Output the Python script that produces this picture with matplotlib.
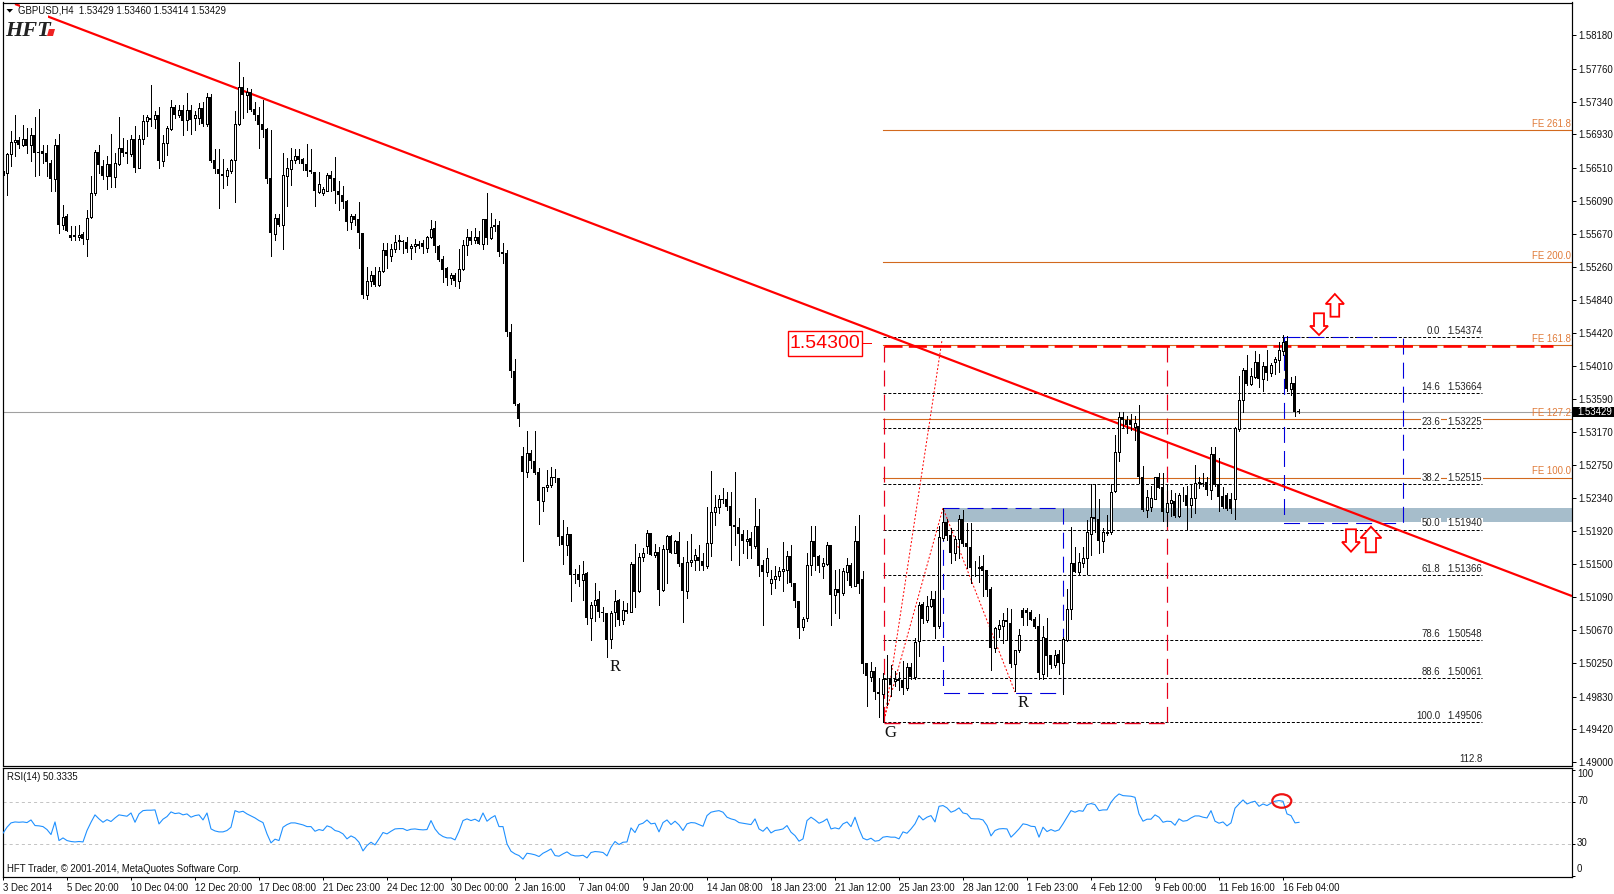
import matplotlib
matplotlib.use("Agg")
import matplotlib.pyplot as plt
import numpy as np
from matplotlib.patches import Polygon, Rectangle, Ellipse
from matplotlib.transforms import Affine2D
from matplotlib.ticker import FormatStrFormatter

# prices are stored in pips (price x 10000)
opens = [
15647,15644,15668,15683,15686,15679,15687,15679,15692,15671,
15672,15669,15657,15637,15679,15579,15590,15566,15566,15563,
15567,15561,15588,15619,15671,15653,15640,15656,15639,15656,
15676,15671,15668,15687,15651,15687,15710,15714,15712,15718,
15659,15682,15700,15727,15718,15724,15711,15724,15713,15713,
15726,15706,15740,15660,15649,15643,15641,15647,15660,15706,
15753,15742,15746,15725,15718,15706,15700,15638,15567,15587,
15578,15641,15649,15660,15665,15662,15655,15648,15646,15620,
15619,15622,15642,15638,15621,15616,15609,15582,15590,15586,
15568,15490,15508,15516,15503,15521,15547,15539,15548,15558,
15558,15557,15549,15552,15555,15556,15550,15563,15575,15552,
15535,15524,15511,15516,15508,15523,15553,15563,15559,15563,
15555,15586,15562,15579,15579,15544,15543,15443,15394,15353,
15287,15267,15291,15281,15267,15230,15248,15250,15261,15259,
15186,15175,15189,15138,15138,15131,15139,15083,15099,15106,
15090,15089,15056,15090,15105,15080,15093,15090,15151,15116,
15160,15173,15190,15162,15166,15118,15169,15186,15165,15180,
15152,15116,15153,15155,15160,15154,15148,15177,15216,15222,
15232,15232,15224,15200,15197,15189,15179,15183,15173,15199,
15149,15140,15126,15132,15136,15142,15143,15161,15127,15104,
15071,15082,15149,15180,15161,15148,15151,15174,15111,15119,
15114,15141,15149,15123,15180,15132,15025,15008,15016,14989,
14986,15005,15007,15003,15005,15004,14994,15021,15008,15053,
15100,15080,15098,15107,15072,15184,15203,15187,15165,15182,
15207,15177,15172,15146,15145,15148,15143,15119,15045,15069,
15072,15080,15076,15024,15042,15093,15093,15090,15081,15072,
15012,15057,15036,15023,15037,15026,15054,15094,15152,15141,
15152,15158,15189,15210,15208,15179,15190,15191,15243,15292,
15336,15332,15332,15324,15325,15261,15219,15222,15233,15260,
15248,15216,15227,15230,15211,15237,15238,15225,15234,15253,
15253,15254,15244,15290,15251,15236,15238,15232,15232,15321,
15358,15396,15378,15387,15405,15384,15401,15392,15406,15408,
15420,15432,15372,15379,15343]
highs = [
15650,15669,15697,15718,15690,15705,15701,15701,15715,15725,
15680,15680,15660,15687,15693,15604,15592,15577,15577,15579,
15570,15597,15641,15673,15679,15661,15665,15693,15669,15715,
15688,15686,15692,15703,15692,15718,15718,15755,15722,15727,
15692,15703,15736,15730,15730,15730,15745,15730,15722,15732,
15734,15745,15744,15674,15674,15662,15650,15662,15722,15784,
15765,15752,15750,15734,15728,15736,15701,15698,15592,15592,
15669,15663,15676,15675,15674,15663,15681,15674,15646,15645,
15627,15644,15647,15664,15634,15628,15610,15592,15592,15608,
15568,15525,15520,15526,15526,15556,15556,15554,15566,15566,
15559,15563,15554,15561,15558,15559,15565,15585,15584,15553,
15539,15525,15518,15518,15548,15560,15573,15571,15575,15571,
15586,15619,15594,15586,15583,15556,15547,15453,15409,15354,
15298,15319,15294,15319,15272,15248,15269,15273,15271,15259,
15206,15197,15189,15144,15149,15154,15140,15102,15127,15117,
15096,15089,15091,15118,15106,15104,15101,15153,15176,15165,
15171,15194,15190,15176,15172,15174,15187,15187,15181,15191,
15160,15180,15189,15169,15175,15165,15223,15268,15238,15238,
15246,15242,15241,15267,15209,15194,15194,15191,15234,15220,
15156,15171,15143,15148,15147,15178,15167,15174,15127,15104,
15084,15164,15199,15198,15162,15158,15178,15175,15143,15144,
15146,15158,15152,15199,15213,15142,15026,15027,15020,15007,
15013,15036,15023,15015,15014,15028,15026,15026,15057,15103,
15103,15110,15116,15116,15198,15221,15208,15196,15186,15212,
15219,15202,15202,15154,15161,15162,15143,15122,15071,15080,
15089,15095,15094,15042,15068,15095,15095,15093,15084,15088,
15072,15082,15036,15042,15042,15059,15119,15197,15172,15164,
15172,15206,15251,15251,15232,15196,15212,15252,15314,15342,
15342,15337,15340,15337,15351,15274,15244,15249,15261,15266,
15266,15251,15244,15240,15240,15248,15249,15250,15276,15261,
15266,15261,15298,15298,15284,15248,15240,15240,15324,15388,
15398,15414,15398,15419,15416,15405,15421,15404,15412,15431,
15440,15439,15387,15388,15346]
lows = [
15638,15617,15653,15665,15676,15678,15669,15659,15641,15642,
15657,15640,15622,15622,15569,15573,15571,15559,15559,15560,
15554,15539,15587,15617,15644,15636,15624,15627,15627,15654,
15665,15657,15665,15646,15650,15681,15691,15703,15701,15650,
15653,15667,15699,15713,15715,15692,15699,15694,15699,15706,
15703,15704,15658,15644,15600,15625,15629,15644,15608,15705,
15713,15721,15722,15711,15676,15690,15632,15540,15559,15577,
15548,15602,15629,15657,15657,15648,15640,15644,15603,15619,
15617,15621,15621,15606,15597,15600,15572,15573,15579,15550,
15486,15485,15502,15501,15502,15519,15524,15533,15545,15548,
15543,15545,15535,15545,15550,15543,15544,15562,15545,15533,
15506,15503,15504,15501,15499,15522,15541,15554,15556,15554,
15548,15554,15561,15571,15539,15531,15438,15387,15351,15325,
15154,15260,15272,15264,15201,15218,15243,15248,15254,15175,
15151,15162,15104,15126,15123,15105,15075,15054,15078,15084,
15078,15033,15044,15072,15074,15075,15089,15090,15096,15115,
15154,15165,15162,15159,15099,15117,15127,15164,15164,15148,
15077,15108,15148,15143,15143,15143,15145,15161,15200,15215,
15228,15219,15155,15175,15149,15165,15158,15158,15171,15135,
15074,15136,15113,15120,15131,15117,15127,15123,15096,15057,
15067,15079,15137,15143,15140,15133,15149,15074,15089,15082,
15111,15131,15122,15123,15114,15013,14971,15003,14980,14957,
14951,14973,14984,14996,14992,14987,14992,15005,15005,15035,
15076,15077,15096,15057,15070,15181,15181,15152,15155,15158,
15173,15145,15126,15135,15128,15110,15110,15017,15040,15059,
15051,15055,15021,14990,15040,15074,15074,15080,15070,15005,
15005,15009,15019,15021,15012,14987,15053,15081,15140,15138,
15147,15138,15162,15191,15164,15166,15187,15189,15242,15281,
15324,15316,15320,15307,15253,15218,15210,15217,15232,15246,
15205,15199,15211,15210,15210,15230,15195,15210,15215,15246,
15249,15238,15232,15249,15218,15221,15219,15215,15208,15318,
15342,15377,15377,15385,15374,15369,15383,15388,15391,15393,
15415,15369,15364,15338,15341]
closes = [
15640,15668,15683,15686,15679,15687,15678,15692,15670,15670,
15668,15658,15637,15679,15579,15589,15571,15562,15563,15566,
15561,15587,15619,15671,15654,15640,15655,15639,15657,15676,
15669,15668,15687,15651,15687,15710,15715,15711,15718,15659,
15682,15701,15727,15718,15724,15710,15724,15711,15718,15726,
15706,15740,15659,15649,15643,15641,15648,15660,15706,15753,
15742,15746,15724,15717,15705,15699,15637,15568,15587,15578,
15642,15650,15660,15665,15661,15655,15647,15645,15621,15630,
15624,15642,15637,15621,15616,15608,15582,15590,15585,15568,
15490,15508,15516,15503,15521,15547,15540,15548,15557,15559,
15557,15548,15552,15555,15552,15551,15563,15574,15552,15534,
15522,15511,15516,15508,15523,15553,15563,15558,15563,15555,
15586,15562,15576,15576,15544,15542,15443,15394,15352,15334,
15267,15291,15280,15265,15230,15248,15250,15261,15259,15185,
15174,15188,15137,15137,15131,15138,15082,15099,15105,15090,
15089,15055,15089,15104,15080,15093,15090,15151,15115,15160,
15165,15190,15162,15166,15118,15170,15186,15165,15180,15151,
15116,15153,15155,15162,15154,15148,15177,15216,15222,15232,
15231,15223,15199,15197,15188,15179,15182,15173,15199,15148,
15140,15158,15132,15135,15142,15144,15161,15126,15104,15070,
15081,15149,15180,15160,15148,15152,15175,15111,15119,15114,
15142,15149,15123,15180,15125,15024,15009,15016,14989,14986,
15005,15004,14998,15005,15003,14994,15020,15008,15052,15099,
15081,15098,15107,15071,15185,15203,15186,15165,15182,15207,
15176,15172,15145,15145,15147,15142,15118,15044,15070,15073,
15080,15077,15024,15042,15061,15083,15089,15080,15071,15013,
15058,15035,15023,15036,15026,15056,15094,15152,15141,15153,
15158,15191,15210,15207,15179,15191,15191,15242,15292,15336,
15332,15326,15326,15328,15261,15219,15235,15234,15260,15247,
15216,15228,15231,15211,15238,15236,15224,15234,15253,15254,
15252,15244,15290,15250,15235,15223,15220,15220,15322,15358,
15396,15378,15388,15405,15384,15401,15392,15402,15409,15421,
15431,15371,15379,15342,15343]

rsi_values = [
40.0,45.7,49.8,50.7,50.4,50.7,50.1,52.6,47.3,47.0,
46.3,43.5,38.8,50.7,33.1,35.6,33.1,32.2,31.8,32.2,
31.8,42.6,50.4,57.4,53.6,50.4,52.9,51.1,54.5,57.4,
56.7,56.1,59.2,50.4,58.3,61.4,61.8,61.8,62.1,48.8,
53.3,55.8,60.2,58.6,59.2,57.4,58.3,55.2,56.7,57.4,
52.6,59.2,44.1,42.2,41.3,41.3,42.6,45.7,61.4,59.9,
60.8,58.3,56.4,54.5,52.0,50.1,39.4,30.9,34.4,33.1,
45.7,48.2,49.8,49.8,48.8,47.9,46.3,46.3,41.9,43.5,
42.6,47.0,45.7,42.6,41.6,39.4,34.7,37.5,35.6,31.5,
23.3,28.4,31.5,29.0,34.7,40.7,39.4,41.9,44.1,44.4,
44.4,42.6,43.8,44.1,43.5,43.2,43.5,52.0,44.1,39.4,
36.9,35.6,35.6,33.7,41.9,52.0,53.6,52.0,53.3,51.1,
59.2,51.4,54.5,56.7,46.3,46.3,30.0,23.0,20.5,18.9,
15.5,21.1,20.5,19.6,18.0,21.1,23.0,25.2,18.9,18.3,
20.5,22.4,19.6,18.6,18.6,19.2,16.7,21.8,22.7,22.4,
21.8,18.6,26.8,32.2,29.3,31.5,31.8,45.1,40.7,48.2,
49.5,52.6,48.9,49.5,41.3,50.1,52.6,48.2,51.4,47.9,
42.6,48.9,50.1,49.8,48.2,46.6,56.7,59.9,60.8,61.4,
59.9,55.2,53.6,52.6,50.1,49.5,48.9,48.2,53.6,44.1,
41.9,45.7,40.3,42.6,43.2,44.1,47.3,41.0,37.8,32.5,
34.7,52.0,55.2,52.6,49.5,51.1,53.6,44.1,45.1,44.1,
48.9,50.7,46.3,55.2,44.1,35.3,33.7,35.3,32.5,33.1,
36.3,36.9,36.3,36.3,34.7,41.3,40.0,44.1,48.9,56.7,
52.6,55.2,56.7,50.7,65.5,66.2,64.0,59.9,61.4,64.0,
59.2,58.3,53.9,53.6,53.6,52.6,47.3,37.5,42.6,44.1,
44.4,44.1,36.3,40.0,44.1,48.9,48.2,46.6,46.3,36.3,
45.7,41.6,43.5,41.9,43.2,48.9,55.2,61.4,59.9,61.4,
60.8,67.1,68.1,67.1,61.4,62.1,62.1,69.3,74.0,77.2,
75.6,75.3,75.0,74.0,58.3,51.4,53.3,53.3,57.4,55.2,
50.4,51.4,51.1,47.6,53.6,51.4,52.0,54.5,56.4,56.4,
55.2,54.5,61.4,51.4,49.5,50.7,47.0,49.8,63.7,67.7,
71.5,67.7,69.3,70.3,65.5,67.7,66.2,68.4,70.3,70.9,
70.3,58.3,56.7,49.8,50.33]

date_labels = ["3 Dec 2014","5 Dec 20:00","10 Dec 04:00","12 Dec 20:00","17 Dec 08:00",
               "21 Dec 23:00","24 Dec 12:00","30 Dec 00:00","2 Jan 16:00","7 Jan 04:00",
               "9 Jan 20:00","14 Jan 08:00","18 Jan 23:00","21 Jan 12:00","25 Jan 23:00",
               "28 Jan 12:00","1 Feb 23:00","4 Feb 12:00","9 Feb 00:00","11 Feb 16:00","16 Feb 04:00"]
price_ticks = [1.58180,1.57760,1.57340,1.56930,1.56510,1.56090,1.55670,1.55260,1.54840,1.54420,
               1.54010,1.53590,1.53170,1.52750,1.52340,1.51920,1.51500,1.51090,1.50670,1.50250,
               1.49830,1.49420,1.49000]
fib_pct = ["0.0","14.6","23.6","38.2","50.0","61.8","78.6","88.6","100.0"]
fib_price = [1.54374,1.53664,1.53225,1.52515,1.51940,1.51366,1.50548,1.50061,1.49506]
fe_names = ["FE 261.8","FE 200.0","FE 161.8","FE 127.2","FE 100.0"]
fe_price = [1.56981,1.55314,1.54266,1.53332,1.52595]

assert len(opens)==len(highs)==len(lows)==len(closes)==len(rsi_values)==325

W, H = 1615, 894
plt.rcParams['font.family'] = ['Liberation Sans', 'DejaVu Sans']
plt.rcParams['lines.scale_dashes'] = False
PX = 0.72
FS = 6.9
fig = plt.figure(figsize=(W/100, H/100), dpi=100, facecolor='white')
px = Affine2D().scale(1, -1).translate(0, H)

def rect(l, t, r, b):
    return [l/W, 1-b/H, (r-l)/W, (b-t)/H]

ax = fig.add_axes(rect(2.5, 2.5, 1572.5, 765.5))
ax2 = fig.add_axes(rect(2.5, 767.5, 1572.5, 876.5))
XMIN, XMAX = -0.125, 392.375
for a in (ax, ax2):
    a.set_xlim(XMIN, XMAX)
    for s in a.spines.values():
        s.set_linewidth(PX*1.2)
ax.set_ylim(1.48962, 1.58594)
ax2.set_ylim(-0.9, 102.2)

idx = np.arange(len(opens))
o, h, l, c = [np.array(v)/1e4 for v in (opens, highs, lows, closes)]
up = c > o

# objects behind the candles
band_lo, band_hi = 1.52039, 1.52212
ax.add_patch(Rectangle((235, band_lo), XMAX-235, band_hi-band_lo, fc='#A6BDCB', ec='none', zorder=1))
ax.axhline(1.53429, color='#A0A0A0', lw=PX*1.1, zorder=1.2)

red_dash = (0, (11.5, 5.8))
blue_dash = (0, (11.5, 5.8))
for pr in fib_price:
    ax.plot([220, 369.75], [pr, pr], color='black', lw=PX, ls=(0, (2.2, 1.3)), zorder=1.5)
for pr in fe_price:
    ax.plot([220, XMAX], [pr, pr], color='#D2691E', lw=PX*1.1, zorder=1.4)

top_red = 1.54258
ax.plot([220.25, 220.25], [top_red, 1.49506], color='#E8001C', lw=PX*1.2, ls=red_dash, zorder=1.6)
ax.plot([291, 291], [top_red, 1.49506], color='#E8001C', lw=PX*1.2, ls=red_dash, zorder=1.6)
ax.plot([220.25, 291], [1.49500, 1.49500], color='#E8001C', lw=PX*1.4, ls=red_dash, zorder=1.6)
ax.plot([220.25, 387.4], [top_red, top_red], color='#FF0000', lw=PX*2.6, ls=(0, (13, 4.5)), zorder=1.9)
ax.plot([235, 265, 265, 235, 235], [1.52212, 1.52212, 1.49873, 1.49873, 1.52212], color='#0000DD', lw=PX*1.1, ls=blue_dash, zorder=1.7)
ax.plot([320.2, 350.1, 350.1, 320.2, 320.2], [1.54374, 1.54374, 1.52019, 1.52019, 1.54374], color='#0000DD', lw=PX*1.1, ls=blue_dash, zorder=1.7)

dot = (0, (1.4, 1.4))
ax.plot([220.5, 235, 253], [1.49586, 1.52212, 1.49889], color='#FF0000', lw=PX, ls=dot, zorder=1.8)
ax.plot([220.5, 234.75], [1.49586, 1.54333], color='#FF0000', lw=PX, ls=dot, zorder=1.8)

# trend line
ax.plot([3, 392.25], [1.58575, 1.51101], color='#FF0000', lw=PX*2.2, zorder=2, solid_capstyle='butt')

# candles
ax.vlines(idx, l, h, color='black', lw=PX, zorder=3, antialiased=False, capstyle='butt')
ax.bar(idx[~up], np.maximum((o-c)[~up], 0.00008), bottom=c[~up], width=0.75, color='black', lw=0, zorder=3.1, antialiased=False)
ax.bar(idx[up], (c-o)[up], bottom=o[up], width=0.5, facecolor='white', edgecolor='black', lw=PX, zorder=3.2, antialiased=False)

# price axis
ax.yaxis.tick_right()
ax.set_yticks(price_ticks)
ax.yaxis.set_major_formatter(FormatStrFormatter('%.5f'))
ax.tick_params(axis='y', length=3, width=PX, pad=1.0, labelsize=FS, labelcolor='#111111')
ax.set_xticks([])

# fibo and expansion labels
for pct, pr in zip(fib_pct, fib_price):
    ax.annotate(pct, (359.25, pr), xytext=(0, 0.9), textcoords='offset points', ha='right', va='bottom',
                fontsize=FS, color='#222222', bbox=dict(fc='white', ec='none', pad=0.4), zorder=4)
    ax.annotate(f"{pr:.5f}", (369.75, pr), xytext=(0, 0.9), textcoords='offset points', ha='right', va='bottom',
                fontsize=FS, color='#222222', bbox=dict(fc='white', ec='none', pad=0.4), zorder=4)
for name, pr in zip(fe_names, fe_price):
    ax.annotate(name, (391.9, pr), xytext=(0, 0.9), textcoords='offset points', ha='right', va='bottom',
                fontsize=FS, color='#E07B39', zorder=4)

# RSI
ax2.axhline(70, color='#C4C4C4', lw=PX, ls=(0, (2.2, 2.2)))
ax2.axhline(30, color='#C4C4C4', lw=PX, ls=(0, (2.2, 2.2)))
ax2.plot(idx, rsi_values, color='#1E90FF', lw=PX*1.1, zorder=3)
ax2.yaxis.tick_right()
ax2.set_yticks([100, 70, 30, 0])
ax2.set_yticklabels([])
ax2.tick_params(axis='y', length=2, width=PX)
ax2.set_xticks(idx[::16][:len(date_labels)])
ax2.set_xticklabels(date_labels, ha='left', fontsize=FS, color='#111111')
ax2.tick_params(axis='x', length=2.2, width=PX, pad=2.6)

def ptext(x, y, s, **kw):
    kw.setdefault('fontsize', FS)
    kw.setdefault('va', 'center')
    kw.setdefault('color', '#111111')
    return fig.text(x/W, 1-y/H, s, **kw)

for y, s in [(774, "100"), (800.5, "70"), (843, "30"), (869, "0")]:
    ptext(1577, y, s)

ptext(7.5, 776.7, "RSI(14) 50.3335")
ptext(7.5, 868.7, "HFT Trader, © 2001-2014, MetaQuotes Software Corp.")
ptext(1459, 759, "112.8", color='#222222')

# logo, with the white ground that hides the start of the trend line
fig.add_artist(Rectangle((20, 4), 27.5, 13.5, transform=px, fc='white', ec='none', zorder=5))
ptext(5, 36.5, "HFT", family='Liberation Serif', weight='bold', style='italic', fontsize=16, va='baseline', color='#222222', zorder=6)
fig.add_artist(Polygon([(49, 29), (55, 29), (53, 36), (47, 36)], transform=px, fc='#EE2222', ec='none', zorder=6))

ptext(18, 10.7, "GBPUSD,H4  1.53429 1.53460 1.53414 1.53429", zorder=7)
fig.add_artist(Polygon([(6.5, 9), (13, 9), (9.7, 12.6)], transform=px, fc='black', ec='none', zorder=7))

# current price tag
fig.add_artist(Rectangle((1573, 407), 42, 9.5, transform=px, fc='black', ec='none', zorder=5))
ptext(1577, 411.8, "1.53429", color='white', zorder=6)

# level box
fig.add_artist(Rectangle((787.5, 331), 74, 24.5, transform=px, fc='white', ec='#FF0000', lw=PX*1.4, zorder=5))
ptext(824.5, 343.5, "1.54300", color='#FF0000', fontsize=14, ha='center', zorder=6)
fig.add_artist(plt.Line2D([861.5, 871], [343, 343], transform=px, color='#FF0000', lw=PX, zorder=5))

# marked letters
for x, y, s in [(614.7, 667, "R"), (1022.7, 702.7, "R"), (890, 733, "G")]:
    ptext(x, y, s, family='Liberation Serif', fontsize=12, ha='center', zorder=6)

# hollow arrows
def arrow(xl, xr, sl, sr, tip, base, end):
    xm = (xl+xr)/2
    pts = [(xm, tip), (xr, base), (sr, base), (sr, end), (sl, end), (sl, base), (xl, base)]
    fig.add_artist(Polygon(pts, closed=True, transform=px, fc='white', ec='#FF0000', lw=PX*1.8, joinstyle='miter', zorder=5))

arrow(1325.7, 1344, 1330.5, 1339.2, 294, 304, 316.7)
arrow(1310, 1328, 1314, 1324, 335, 326, 313.3)
arrow(1342, 1360, 1346, 1356, 551.7, 542, 529.3)
arrow(1360.5, 1381.4, 1365.7, 1376, 526.7, 538, 552.3)

# RSI ring
fig.add_artist(Ellipse((1281.8, 801), 19, 13.5, transform=px, fc='none', ec='#EE1111', lw=PX*2.2, zorder=5))

fig.savefig('out.png', dpi=100, facecolor='white')
